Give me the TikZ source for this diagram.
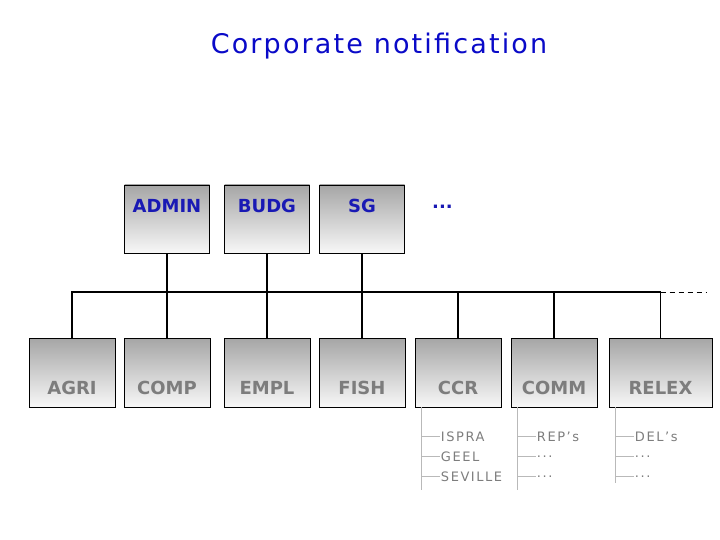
\documentclass[tikz,border=0pt]{standalone}
\usepackage{fontspec}
\setmainfont{DejaVu Sans}
\newfontfamily\titlefont[LetterSpace=8]{DejaVu Sans}
\newfontfamily\subfont[LetterSpace=12]{DejaVu Sans}
\usetikzlibrary{calc}
\definecolor{titleblue}{RGB}{10,10,200}
\definecolor{boxblue}{RGB}{25,25,180}
\definecolor{boxgrey}{RGB}{125,125,125}
\definecolor{subgrey}{RGB}{125,125,125}
\definecolor{linegrey}{RGB}{185,185,185}
\begin{document}
\begin{tikzpicture}[x=1pt,y=-1pt,
		box/.style={draw=black, line width=0.9pt, top color=black!35, bottom color=black!3,
			minimum width=85pt, inner sep=0pt, font=\bfseries\fontsize{18}{18}\selectfont},
		topbox/.style={box, text=boxblue, text height=27pt, text depth=41pt},
		lowbox/.style={box, text=boxgrey, text height=56pt, text depth=13pt, minimum width=86pt},
		bus/.style={line width=1.3pt},
		twig/.style={draw=linegrey, line width=0.8pt},
		sublabel/.style={anchor=west, inner sep=1pt, text=subgrey, font=\subfont\fontsize{13}{13}\selectfont}]
	\useasboundingbox (0,0) rectangle (720,540);
	\node[text=titleblue, font=\titlefont\fontsize{27}{27}\selectfont] (title) at (379,46) {Corporate notification};
	% top row
	\node[topbox] (admin) at (167,219) {ADMIN};
	\node[topbox] (budg) at (267,219) {BUDG};
	\node[topbox] (sg) at (362,219) {SG};
	\node[anchor=base west, inner sep=0pt, text=boxblue, font=\bfseries\fontsize{18}{18}\selectfont] (more) at (432,208) {...};
	% bottom row
	\node[lowbox] (agri) at (72,372.5) {AGRI};
	\node[lowbox] (comp) at (167,372.5) {COMP};
	\node[lowbox] (empl) at (267,372.5) {EMPL};
	\node[lowbox] (fish) at (362,372.5) {FISH};
	\node[lowbox] (ccr) at (458,372.5) {CCR};
	\node[lowbox] (comm) at (554,372.5) {COMM};
	\node[lowbox, minimum width=103pt] (relex) at (660.5,372.5) {RELEX};
	% bus
	\coordinate (bus) at (0,292);
	\coordinate (busend) at (707,292);
	\draw[bus] (agri.north) |- (bus -| relex.north) -- (relex.north);
	\foreach \t/\b in {admin/comp,budg/empl,sg/fish}
		\draw[bus] (\t.south) -- (\b.north);
	\foreach \n in {ccr,comm}
		\draw[bus] (\n.north) -- (\n.north |- bus);
	\draw[line width=0.8pt, dash pattern=on 5pt off 4pt] (bus -| relex.north) -- (busend);
	% sub-branches
	\foreach \n/\len/\a/\b/\c in {ccr/83/ISPRA/GEEL/SEVILLE, comm/83/REP’s/.{}.{}./.{}.{}., relex/76/DEL’s/.{}.{}./.{}.{}.}{
		\draw[twig] ($(\n.south west)+(7,0)$) coordinate (\n-tw) -- ++(0,\len);
		\foreach \lab [count=\i] in {\a,\b,\c}
			\draw[twig] ($(\n-tw)+(0,9+20*\i)$) coordinate (\n-t\i) -- ++(18,0) node[sublabel] (\n-l\i) {\lab};
	}
\end{tikzpicture}
\end{document}
